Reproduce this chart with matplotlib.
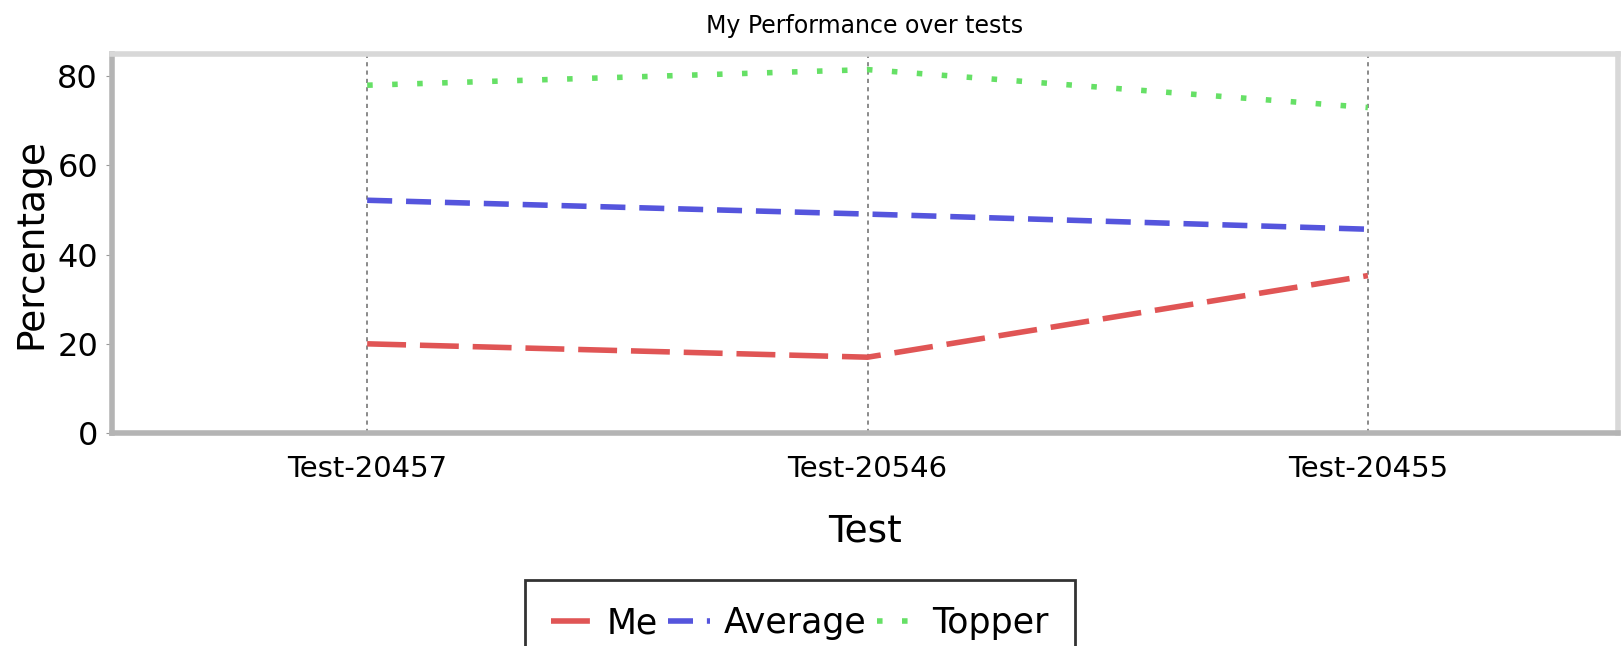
import matplotlib
matplotlib.use("Agg")
import matplotlib.pyplot as plt

tests = ["Test-20457", "Test-20546", "Test-20455"]
me = [20, 17, 35.3]
average = [52.2, 49.1, 45.7]
topper = [78, 81.5, 73]

plt.rcParams['font.family'] = ["DejaVu Sans"]

fig = plt.figure(figsize=(16.24, 6.46), dpi=100)
ax = fig.add_axes([112/1624, 1-433/646, (1618-112)/1624, (433-54)/646])

x = list(range(len(tests)))
ax.plot(x, me, color="#e05555", lw=4, dashes=(7, 2.5), label="Me")
ax.plot(x, average, color="#5555dd", lw=4, dashes=(4.5, 2.5), label="Average")
ax.plot(x, topper, color="#66e066", lw=4, dashes=(1, 3.5), label="Topper")

ax.set_xlim(-0.51, 2.5)
ax.set_ylim(0, 85)
ax.set_xticks(x)
ax.set_xticklabels(tests, fontsize=21)
ax.set_yticks([0, 20, 40, 60, 80])
ax.tick_params(axis='y', labelsize=23, length=4, color="#999999", pad=6)
ax.tick_params(axis='x', length=0, pad=16)
for xi in x:
    ax.axvline(xi, color="#777777", lw=1.2, ls=(0, (2.5, 2.5)), zorder=0)

for s in ["left", "bottom"]:
    ax.spines[s].set_color("#b4b4b4")
    ax.spines[s].set_linewidth(4)
for s in ["top", "right"]:
    ax.spines[s].set_color("#d8d8d8")
    ax.spines[s].set_linewidth(4)

ax.set_title("My Performance over tests", fontsize=17, pad=15)
ax.set_ylabel("Percentage", fontsize=27, labelpad=6)
ax.set_xlabel("Test", fontsize=27, labelpad=22)

leg = fig.legend(loc="upper center", bbox_to_anchor=(800/1624, 1-580/646), ncol=3,
                 fontsize=25, frameon=True, fancybox=False, edgecolor="black",
                 handlelength=1.2, handletextpad=0.4, columnspacing=0.3,
                 borderpad=0.75, borderaxespad=0)
leg.get_frame().set_linewidth(2)

fig.savefig("out.png", dpi=100)
